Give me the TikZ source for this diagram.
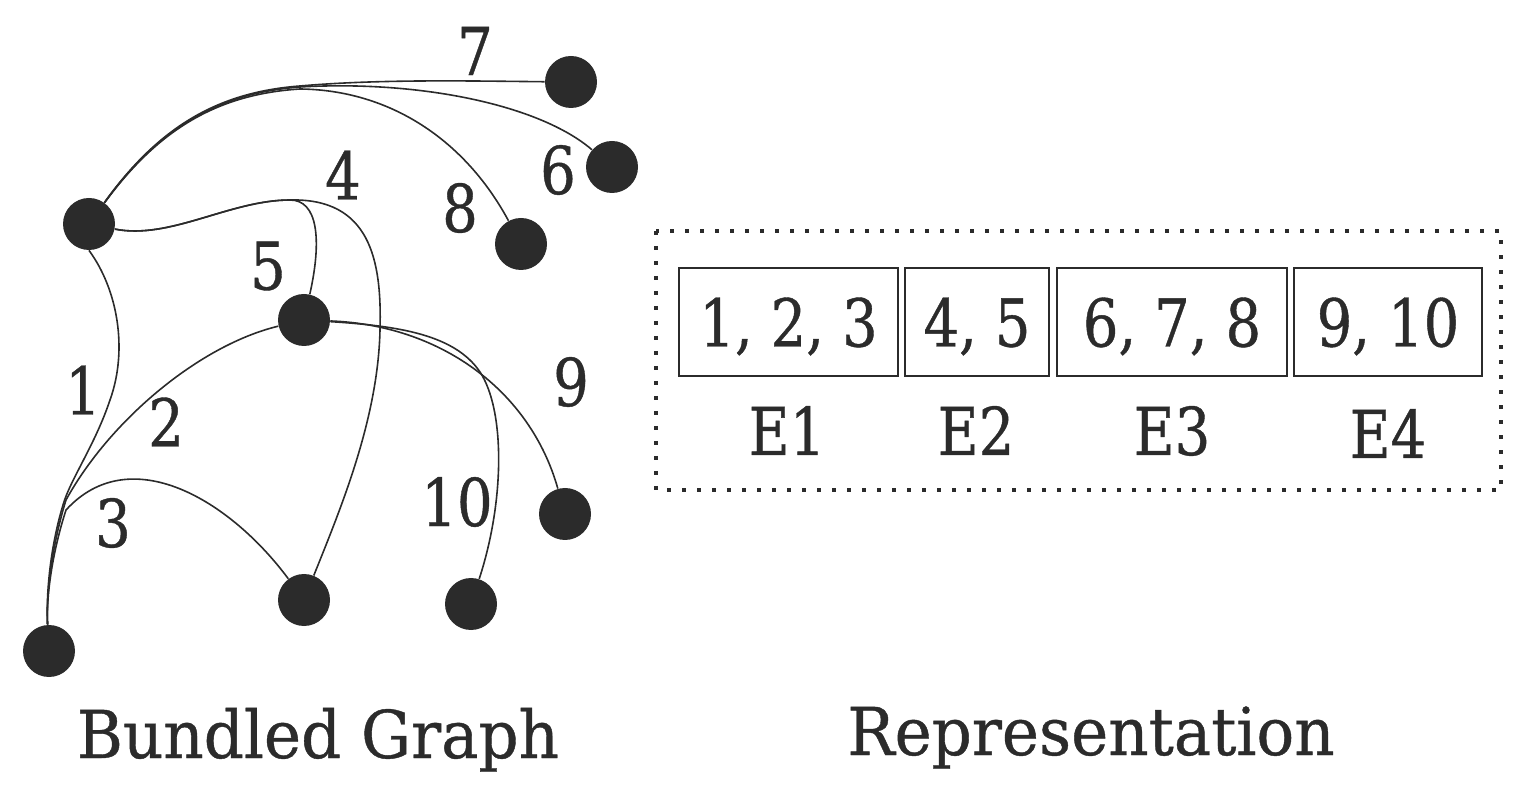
\documentclass[tikz,border=0pt]{standalone}
\usepackage{fontspec}
\setmainfont{DejaVu Serif}[FakeStretch=0.95,FakeBold=0.6]
\newfontfamily\numfont{DejaVu Serif}[FakeStretch=0.85,FakeBold=0.6]
\definecolor{ink}{HTML}{2B2B2B}
\begin{document}
\begin{tikzpicture}[x=0.5pt,y=-0.5pt,
  vtx/.style={circle,fill=ink,inner sep=0pt,minimum size=26pt},
  edge/.style={draw=ink,line width=0.8pt},
  lbl/.style={text=ink,inner sep=0pt,font=\numfont\fontsize{33}{40}\selectfont},
  cell/.style={draw=ink,line width=1pt,text=ink,inner sep=0pt,minimum height=54pt,
    text height=24.5pt,text depth=0pt,font=\numfont\fontsize{33}{40}\selectfont},
  title/.style={text=ink,inner sep=0pt,anchor=base,font=\fontsize{33}{40}\selectfont},
  frame/.style={draw=ink,line width=1.8pt,dash pattern=on 1.8pt off 5.7pt}]
\useasboundingbox (0,0) rectangle (1524,795);
% vertices
\node[vtx] (A)   at (89,224) {};
\node[vtx] (N7)  at (571,82) {};
\node[vtx] (N6)  at (612,167) {};
\node[vtx] (N8)  at (521,244) {};
\node[vtx] (N5)  at (304,320) {};
\node[vtx] (N9)  at (565,514) {};
\node[vtx] (N10) at (471,604) {};
\node[vtx] (Nb)  at (304,600) {};
\node[vtx] (Nbl) at (49,651) {};
% top bundle
\draw[edge] (A) .. controls (160,125) and (220,92) .. (300,86) .. controls (380,79) and (470,81) .. (N7);
\draw[edge] (A) .. controls (160,126) and (220,93) .. (300,87) .. controls (420,80) and (540,105) .. (N6);
\draw[edge] (A) .. controls (160,127) and (220,94) .. (300,89) .. controls (390,90) and (465,140) .. (N8);
% middle bundle
\draw[edge] (A) .. controls (170,240) and (230,200) .. (290,200) .. controls (370,198) and (382,260) .. (380,330) .. controls (378,420) and (340,510) .. (Nb);
\draw[edge] (A) .. controls (170,240) and (230,200) .. (290,200) .. controls (318,200) and (322,240) .. (N5);
% left bundle
\draw[edge] (A.south) .. controls (118,290) and (128,350) .. (110,400) .. controls (95,445) and (70,480) .. (63,505) .. controls (50,548) and (46,595) .. (Nbl);
\draw[edge] (N5) .. controls (200,345) and (110,420) .. (66,500) .. controls (52,545) and (46,595) .. (Nbl);
\draw[edge] (Nb) .. controls (230,500) and (130,440) .. (66,510) .. controls (53,550) and (46,595) .. (Nbl);
% right bundle
\draw[edge] (N5) .. controls (440,325) and (530,390) .. (N9);
\draw[edge] (N5) .. controls (400,326) and (455,335) .. (480,372) .. controls (505,410) and (505,500) .. (N10);
% edge labels
\node[lbl] (l7)  at (475,51) {7};
\node[lbl] (l6)  at (558,170) {6};
\node[lbl] (l8)  at (460,208) {8};
\node[lbl] (l4)  at (343,175) {4};
\node[lbl] (l5)  at (268,266) {5};
\node[lbl] (l1)  at (83,390) {1};
\node[lbl] (l2)  at (166,422) {2};
\node[lbl] (l3)  at (113,523) {3};
\node[lbl] (l10) at (457,502) {10};
\node[lbl] (l9)  at (571,382) {9};
% representation
\draw[frame] (656,231) rectangle (1501,490);
\node[cell,minimum width=109.5pt] (E1) at (788.5,322) {1, 2, 3};
\node[cell,minimum width=72pt]    (E2) at (977,322) {4, 5};
\node[cell,minimum width=115pt]   (E3) at (1172,322) {6, 7, 8};
\node[cell,minimum width=94pt]    (E4) at (1388,322) {9, 10};
\node[lbl,anchor=base] (t1) at (787,455) {E1};
\node[lbl,anchor=base] (t2) at (976,455) {E2};
\node[lbl,anchor=base] (t3) at (1172,455) {E3};
\node[lbl,anchor=base] (t4) at (1388,458) {E4};
% titles
\node[title] (g) at (318,758) {Bundled Graph};
\node[title] (r) at (1091,755) {Representation};
\end{tikzpicture}
\end{document}
